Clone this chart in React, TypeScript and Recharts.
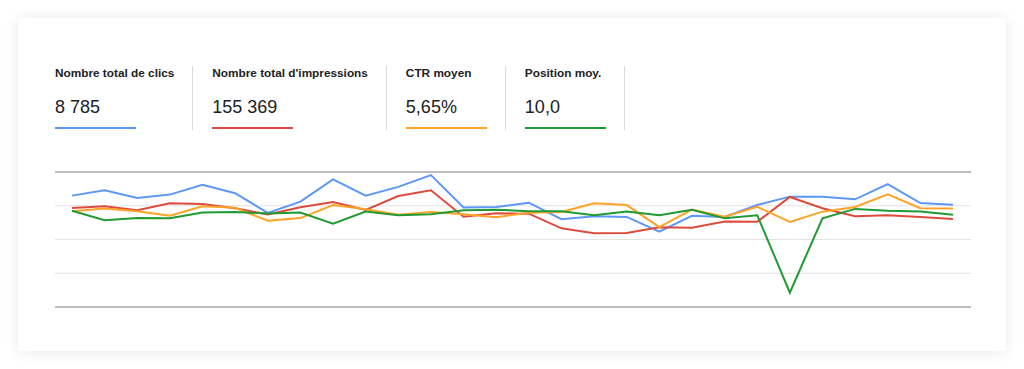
import React from "react";
import { LineChart, Line, XAxis, YAxis, CartesianGrid, ReferenceLine } from "recharts";

// 28 derniers jours
const days = [
  "01/02", "02/02", "03/02", "04/02", "05/02", "06/02", "07/02",
  "08/02", "09/02", "10/02", "11/02", "12/02", "13/02", "14/02",
  "15/02", "16/02", "17/02", "18/02", "19/02", "20/02", "21/02",
  "22/02", "23/02", "24/02", "25/02", "26/02", "27/02", "28/02",
];

const clicks = [
  330, 346, 323, 333, 362, 337, 279, 312, 378, 330, 356, 391, 295, 296,
  309, 260, 269, 267, 223, 270, 267, 302, 327, 327, 319, 364, 308, 303,
];

const impressions = [
  5870, 5970, 5730, 6150, 6100, 5850, 5480, 5910, 6220, 5750, 6580, 6920, 5350, 5550,
  5530, 4660, 4370, 4390, 4720, 4700, 5060, 5050, 6520, 5850, 5380, 5430, 5330, 5220,
];

const ctr = [
  5.67, 5.83, 5.67, 5.41, 5.97, 5.88, 5.11, 5.27, 6.04, 5.79, 5.47, 5.63, 5.49, 5.32,
  5.59, 5.63, 6.15, 6.04, 4.74, 5.77, 5.35, 5.94, 5.04, 5.65, 5.93, 6.68, 5.85, 5.83,
];

const position = [
  8.6, 10.7, 10.2, 10.3, 9.0, 8.9, 9.2, 9.0, 11.5, 8.8, 9.6, 9.4, 8.5, 8.4,
  8.7, 8.7, 9.6, 8.8, 9.6, 8.4, 10.3, 9.6, 26.8, 10.3, 8.2, 8.6, 8.8, 9.5,
];

const metricLabels = ["Nombre total de clics", "Nombre total d'impressions", "CTR moyen", "Position moy."];
const metricValues = ["8 785", "155 369", "5,65%", "10,0"];
const metricColors = ["#5e97f6", "#db4c3f", "#ffa226", "#219a34"];

const data = days.map((day, i) => ({
  day,
  clicks: clicks[i],
  impressions: impressions[i],
  ctr: ctr[i],
  position: position[i],
}));

const font = '"Liberation Sans", Arial, Helvetica, sans-serif';

export default function App() {
  return (
    <div style={{ position: "absolute", left: 0, top: 0, width: 1024, height: 369, background: "#fff", fontFamily: font }}>
      <div
        style={{
          position: "absolute",
          left: 18,
          top: 18,
          width: 988,
          height: 333,
          background: "#fff",
          boxShadow: "0 1px 14px rgba(0,0,0,0.09)",
        }}
      />
      <div style={{ position: "absolute", left: 55, top: 66, display: "flex" }}>
        {metricLabels.map((label, i) => (
          <div
            key={label}
            style={{
              paddingLeft: i === 0 ? 0 : 19,
              paddingRight: 18,
              borderRight: "1px solid #dadada",
              height: 64,
            }}
          >
            <div style={{ fontSize: 11.8, fontWeight: 700, lineHeight: "14px", color: "#202124", whiteSpace: "nowrap" }}>
              {label}
            </div>
            <div style={{ fontSize: 18, lineHeight: "22px", marginTop: 16, color: "#202124" }}>
              {metricValues[i]}
            </div>
            <div style={{ width: 81, height: 2, marginTop: 9, background: metricColors[i] }} />
          </div>
        ))}
      </div>
      <div style={{ position: "absolute", left: 55, top: 165 }}>
        <LineChart width={916} height={150} data={data} margin={{ top: 7, right: 0, bottom: 8, left: 0 }}>
          <CartesianGrid vertical={false} stroke="#e2e2e2" yAxisId="clicks" />
          <XAxis dataKey="day" hide padding={{ left: 17, right: 18 }} />
          <YAxis yAxisId="clicks" hide domain={[0, 400]} ticks={[0, 100, 200, 300, 400]} />
          <YAxis yAxisId="impressions" hide domain={[0, 8000]} />
          <YAxis yAxisId="ctr" hide domain={[0, 8]} />
          <YAxis yAxisId="position" hide domain={[0, 30]} reversed />
          <ReferenceLine yAxisId="clicks" y={400} stroke="#ababab" strokeWidth={1.5} />
          <ReferenceLine yAxisId="clicks" y={0} stroke="#ababab" strokeWidth={1.5} />
          <Line yAxisId="clicks" type="linear" dataKey="clicks" stroke={metricColors[0]} strokeWidth={2} dot={false} isAnimationActive={false} />
          <Line yAxisId="impressions" type="linear" dataKey="impressions" stroke={metricColors[1]} strokeWidth={2} dot={false} isAnimationActive={false} />
          <Line yAxisId="ctr" type="linear" dataKey="ctr" stroke={metricColors[2]} strokeWidth={2} dot={false} isAnimationActive={false} />
          <Line yAxisId="position" type="linear" dataKey="position" stroke={metricColors[3]} strokeWidth={2} dot={false} isAnimationActive={false} />
        </LineChart>
      </div>
    </div>
  );
}
